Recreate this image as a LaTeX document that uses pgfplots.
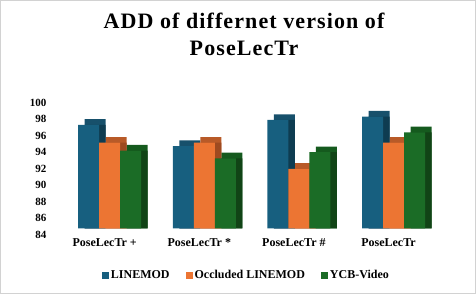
\documentclass[border=0pt]{standalone}
\usepackage{pgfplots}
\pgfplotsset{compat=1.18}
\usepackage{fontspec}
\setmainfont{Liberation Serif}
\newfontfamily\titlefont[LetterSpace=5]{Liberation Serif}
\definecolor{bfront}{HTML}{175F7F}
\definecolor{btop}{HTML}{17506B}
\definecolor{bside}{HTML}{0E3C51}
\definecolor{ofront}{HTML}{EC7533}
\definecolor{otop}{HTML}{B85A28}
\definecolor{oside}{HTML}{9E4A20}
\definecolor{gfront}{HTML}{1B6C26}
\definecolor{gtop}{HTML}{155A1E}
\definecolor{gside}{HTML}{114416}
\begin{document}
\begin{tikzpicture}
\path[use as bounding box] (-50pt,-65.7pt) rectangle (426pt,228.3pt);
\draw[gray!35, line width=1pt] (-49.5pt,-65.2pt) rectangle (425.5pt,227.8pt);
\begin{axis}[
  at={(0,0)}, anchor=south west,
  scale only axis, width=400pt, height=132.3pt,
  xmin=-0.631, xmax=3.597, ymin=84, ymax=100,
  ybar, bar width=21pt,
  axis line style={draw=none}, major tick length=0pt, tick style={draw=none},
  xtick={0,1,2,3},
  xticklabels={PoseLecTr +, PoseLecTr *, PoseLecTr \#, PoseLecTr},
  xticklabel style={font=\bfseries\fontsize{12}{14}\selectfont, xshift=-5pt, yshift=-7pt},
  ytick={84,86,...,100},
  yticklabel style={font=\bfseries\fontsize{11}{13}\selectfont, yshift=-6.5pt},
  /pgf/number format/assume math mode=true,
  legend style={draw=none, fill=none, at={(0.491,-0.353)}, anchor=center,
    font=\bfseries\fontsize{12}{14}\selectfont, legend columns=3,
    /tikz/every even column/.append style={column sep=14pt}},
  legend image code/.code={\fill (0pt,-3.5pt) rectangle (7pt,3.5pt);},
]
% top faces (offset)
\addplot[draw=none, fill=btop, bar shift=-14.5pt, forget plot] coordinates {(0,97.19) (1,94.64) (2,97.79) (3,98.19)};
\addplot[draw=none, fill=otop, bar shift=6.5pt, forget plot] coordinates {(0,95.04) (1,95.04) (2,91.89) (3,95.04)};
\addplot[draw=none, fill=gtop, bar shift=27.5pt, forget plot] coordinates {(0,94.09) (1,93.14) (2,93.89) (3,96.29)};
% side faces
\addplot[draw=none, fill=bside, bar shift=-14.5pt, forget plot] coordinates {(0,96.5) (1,93.95) (2,97.1) (3,97.5)};
\addplot[draw=none, fill=oside, bar shift=6.5pt, forget plot] coordinates {(0,94.35) (1,94.35) (2,91.2) (3,94.35)};
\addplot[draw=none, fill=gside, bar shift=27.5pt, forget plot] coordinates {(0,93.4) (1,92.45) (2,93.2) (3,95.6)};
% front faces
\addplot[draw=none, fill=bfront, bar shift=-21pt] coordinates {(0,96.5) (1,93.95) (2,97.1) (3,97.5)};
\addplot[draw=none, fill=ofront, bar shift=0pt] coordinates {(0,94.35) (1,94.35) (2,91.2) (3,94.35)};
\addplot[draw=none, fill=gfront, bar shift=21pt] coordinates {(0,93.4) (1,92.45) (2,93.2) (3,95.6)};
\legend{LINEMOD, Occluded LINEMOD, YCB-Video}
\end{axis}
\node[font=\titlefont\bfseries\fontsize{22}{27}\selectfont, align=center] at (194pt,193.8pt) {ADD of differnet version of\\PoseLecTr};
\end{tikzpicture}
\end{document}
